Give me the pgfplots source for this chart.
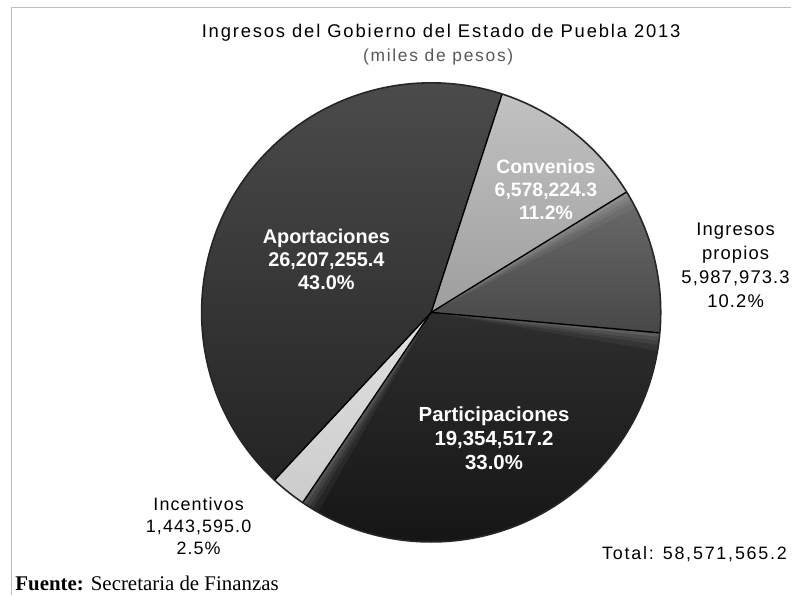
\documentclass[border=0pt]{standalone}
\usepackage{pgfplots}
\pgfplotsset{compat=1.18}
\usepackage{pgfplotstable}
\usepackage{fontspec}
\setmainfont{Liberation Sans}
\newfontfamily\serif{Liberation Serif}
\newfontfamily\spaced[LetterSpace=6]{Liberation Sans}
\newfontfamily\wide[LetterSpace=10]{Liberation Sans}

% share of each source (percent), clockwise from the top
\pgfplotstableread{
label value
Convenios 11.2
Propios 10.2
Participaciones 33.0
Incentivos 2.5
Aportaciones 43.0
}\piedata

\newcommand\slice[4]{%
  \shade[top color=#3, bottom color=#4] (axis cs:432,283) -- ++(#1:230bp) arc[start angle=#1, end angle=#2, radius=230bp] -- cycle;
}
\newcommand\litwedge[3]{%
  \fill[white, opacity=#3] (axis cs:432,283) -- ++(#1:230bp) arc[start angle=#1, end angle=#2, radius=230bp] -- cycle;
}
% soft light band along an edge, #2 = +1 or -1 gives the side
\newcommand\shine[2]{%
  \litwedge{#1}{#1+#2*1}{0.09}\litwedge{#1}{#1+#2*2}{0.07}%
  \litwedge{#1}{#1+#2*3}{0.06}\litwedge{#1}{#1+#2*4.5}{0.05}%
}
\newcommand\sep[1]{%
  \draw[black, line width=1.4bp] (axis cs:432,283) -- ++(#1:230bp);
}

\begin{document}
\begin{tikzpicture}
\pgfplotstablegetelem{0}{value}\of\piedata \let\vA\pgfplotsretval
\pgfplotstablegetelem{1}{value}\of\piedata \let\vB\pgfplotsretval
\pgfplotstablegetelem{2}{value}\of\piedata \let\vC\pgfplotsretval
\pgfplotstablegetelem{3}{value}\of\piedata \let\vD\pgfplotsretval
\pgfplotstablegetelem{4}{value}\of\piedata \let\vE\pgfplotsretval
\pgfmathsetmacro\sumv{\vA+\vB+\vC+\vD+\vE}
\pgfmathsetmacro\aA{72}
\pgfmathsetmacro\aB{\aA-360*\vA/\sumv}
\pgfmathsetmacro\aC{\aB-360*\vB/\sumv}
\pgfmathsetmacro\aD{\aC-360*\vC/\sumv}
\pgfmathsetmacro\aE{\aD-360*\vD/\sumv}
\pgfmathsetmacro\aF{\aE-360*\vE/\sumv}
\begin{axis}[scale only axis, width=793bp, height=596bp,
  xmin=0, xmax=793, ymin=0, ymax=596, hide axis, clip=false]
\fill[white] (axis cs:0,0) rectangle (axis cs:793,596);
\draw[black!25, line width=0.8bp] (axis cs:11,0) -- (axis cs:11,589) -- (axis cs:793,589);

\slice{\aA}{\aB}{black!24}{black!38}
\slice{\aB}{\aC}{black!58}{black!72}
\slice{\aC}{\aD}{black!82}{black!92}
\slice{\aD}{\aE}{black!12}{black!20}
\slice{\aE}{\aF}{black!70}{black!86}
\shine{\aB}{-1}
\shine{\aC}{-1}
\shine{\aD}{1}
\sep{\aA}\sep{\aB}\sep{\aC}\sep{\aD}\sep{\aE}
\draw[black!85, line width=1.6bp] (axis cs:432,283) circle[radius=230bp];

\node[font=\wide\fontsize{18.5}{21}\selectfont] at (axis cs:442,563) {Ingresos del Gobierno del Estado de Puebla 2013};
\node[font=\wide\fontsize{17.5}{20}\selectfont, text=black!65] at (axis cs:439,539) {(miles de pesos)};

\node[font=\bfseries\fontsize{19.5}{23}\selectfont, text=white, align=center] at (axis cs:547,406) {Convenios\\6,578,224.3\\11.2\%};
\node[font=\bfseries\fontsize{20}{23}\selectfont, text=white, align=center] at (axis cs:327,336) {Aportaciones\\26,207,255.4\\43.0\%};
\node[font=\bfseries\fontsize{20.5}{24}\selectfont, text=white, align=center] at (axis cs:495,157) {Participaciones\\19,354,517.2\\33.0\%};
\node[font=\spaced\fontsize{18.5}{24}\selectfont, align=center] at (axis cs:737,330) {Ingresos\\propios\\5,987,973.3\\10.2\%};
\node[font=\spaced\fontsize{18}{22}\selectfont, align=center] at (axis cs:199,69) {Incentivos\\1,443,595.0\\2.5\%};
\node[font=\wide\fontsize{18}{21}\selectfont, anchor=east] at (axis cs:792,41) {Total: 58,571,565.2};
\node[font=\serif\fontsize{21}{23}\selectfont, anchor=west] at (axis cs:12,11) {\textbf{Fuente:} Secretaria de Finanzas};
\end{axis}
\end{tikzpicture}
\end{document}
